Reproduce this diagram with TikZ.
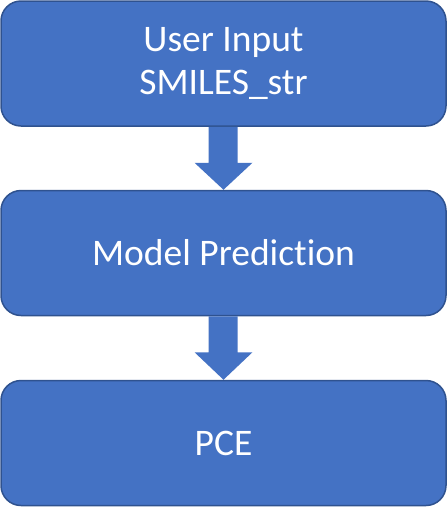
\documentclass[tikz,border=0pt]{standalone}
\usepackage{fontspec}
\setmainfont[Ligatures={NoCommon}]{Carlito}
\definecolor{boxfill}{HTML}{4472C4}
\definecolor{boxline}{HTML}{2F528F}
\begin{document}
\begin{tikzpicture}[x=1pt,y=-1pt,
  stepbox/.style={draw=boxline, line width=1.5pt, fill=boxfill, rounded corners=20pt,
    minimum width=445pt, minimum height=125pt, inner sep=0pt, text=white,
    align=center, font=\fontsize{37.5}{43.5}\selectfont},
  blockarrow/.style={fill=boxfill, draw=none}]
\useasboundingbox (0,0) rectangle (447,507);
\node[stepbox] (input) at (223.5,63.5) {User Input\\SMILES\_str};
\node[stepbox] (model) at (223.5,253) {Model Prediction};
\node[stepbox] (pce) at (223.5,443) {PCE};
\fill[blockarrow] ([xshift=-15pt]input.south) -- ([xshift=-15pt,yshift=-36pt]input.south)
  -- ([xshift=-29pt,yshift=-36pt]input.south) -- (model.north)
  -- ([xshift=29pt,yshift=-36pt]input.south) -- ([xshift=14pt,yshift=-36pt]input.south)
  -- ([xshift=14pt]input.south) -- cycle;
\fill[blockarrow] ([xshift=-15pt]model.south) -- ([xshift=-15pt,yshift=-36pt]model.south)
  -- ([xshift=-29pt,yshift=-36pt]model.south) -- (pce.north)
  -- ([xshift=29pt,yshift=-36pt]model.south) -- ([xshift=14pt,yshift=-36pt]model.south)
  -- ([xshift=14pt]model.south) -- cycle;
\end{tikzpicture}
\end{document}
